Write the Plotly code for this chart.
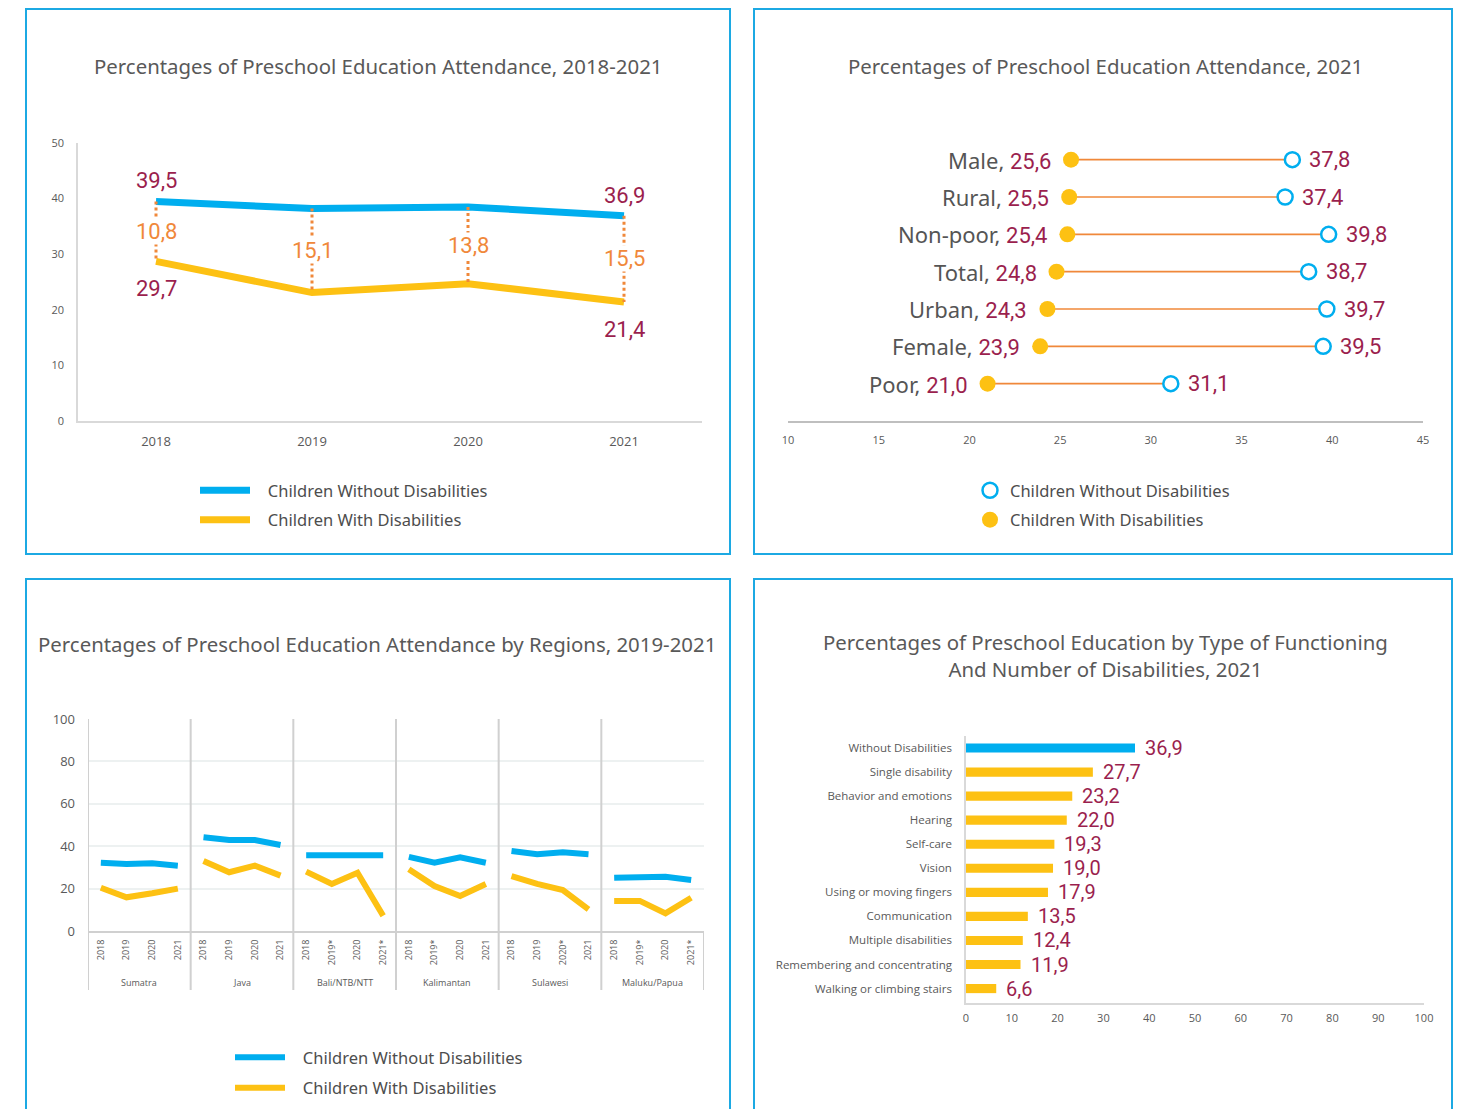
import plotly.graph_objects as go

# the page body keeps its default 8px margin; the figure starts at (8, 8)
OFF = 8
W, H = 1462 - OFF, 1117 - 2 * OFF


def px(x):
    return (x - OFF) / W


def py(y):
    return 1 - (y - OFF) / H


BLUE = "#00AEEF"
YELLOW = "#FDC113"
ORANGE = "#F0883A"
MAROON = "#9B1F4E"
GRAY = "#595959"
AXIS = "#D9D9D9"
BORDER = "#1CA9E3"
TXT_FONT = "Noto Sans"
NUM_FONT = "Roboto"
TICK_FONT = "Open Sans"
NB = "\u00a0\u00a0\u00a0"

# ---------------- data ----------------
# Panel 1: attendance 2018-2021
years = ["2018", "2019", "2020", "2021"]
att_without = [39.5, 38.2, 38.5, 36.9]
att_with = [28.7, 23.1, 24.7, 21.4]
gap_labels = ["10,8", "15,1", "13,8", "15,5"]
without_end_labels = ["39,5", "", "", "36,9"]
with_end_labels = ["29,7", "", "", "21,4"]

# Panel 2: attendance 2021 by group (bottom to top)
groups = ["Poor", "Female", "Urban", "Total", "Non-poor", "Rural", "Male"]
grp_with = [21.0, 23.9, 24.3, 24.8, 25.4, 25.5, 25.6]
grp_without = [31.1, 39.5, 39.7, 38.7, 39.8, 37.4, 37.8]

# Panel 3: attendance by region
regions = ["Sumatra", "Java", "Bali/NTB/NTT", "Kalimantan", "Sulawesi", "Maluku/Papua"]
region_years = [
    ["2018", "2019", "2020", "2021"],
    ["2018", "2019", "2020", "2021"],
    ["2018", "2019*", "2020", "2021*"],
    ["2018", "2019*", "2020", "2021"],
    ["2018", "2019", "2020*", "2021"],
    ["2018", "2019*", "2020", "2021*"],
]
reg_without = [
    [32.2, 31.6, 31.9, 30.8],
    [44.2, 42.9, 42.9, 40.6],
    [35.7, 35.6, 35.9, 35.7],
    [35.0, 32.2, 34.8, 32.2],
    [37.7, 36.2, 37.1, 36.2],
    [25.1, 25.1, 25.6, 24.1],
]
reg_with = [
    [20.4, 15.9, 17.8, 20.0],
    [33.0, 27.7, 30.8, 26.1],
    [28.0, 22.2, 27.5, 7.2],
    [29.1, 21.2, 16.5, 22.2],
    [25.9, 22.2, 19.3, 10.2],
    [14.2, 14.2, 8.3, 15.7],
]

# Panel 4: by type of functioning
func_types = [
    "Without Disabilities", "Single disability", "Behavior and emotions", "Hearing",
    "Self-care", "Vision", "Using or moving fingers", "Communication",
    "Multiple disabilities", "Remembering and concentrating", "Walking or climbing stairs",
]
func_values = [36.9, 27.7, 23.2, 22.0, 19.3, 19.0, 17.9, 13.5, 12.4, 11.9, 6.6]


def fmt(v):
    return f"{v:.1f}".replace(".", ",")


fig = go.Figure()
annotations = []
shapes = []

# ---------------- Panel 1 ----------------
fig.add_trace(go.Scatter(
    x=years, y=att_without, mode="lines", name=NB + "Children Without Disabilities",
    line=dict(color=BLUE, width=7), xaxis="x", yaxis="y", legend="legend",
    legendgroup="a",
))
fig.add_trace(go.Scatter(
    x=years, y=att_with, mode="lines", name=NB + "Children With Disabilities",
    line=dict(color=YELLOW, width=7), xaxis="x", yaxis="y", legend="legend",
    legendgroup="b",
))
gx, gy = [], []
for yr, a, b in zip(years, att_without, att_with):
    gx += [yr, yr, None]
    gy += [a, b, None]
fig.add_trace(go.Scatter(
    x=gx, y=gy, mode="lines", line=dict(color=ORANGE, width=3, dash="dot"),
    showlegend=False, xaxis="x", yaxis="y", hoverinfo="skip",
))
for i, (a, b, g, la, lb) in enumerate(zip(att_without, att_with, gap_labels,
                                          without_end_labels, with_end_labels)):
    annotations.append(dict(
        x=i, y=(a + b) / 2, xref="x", yref="y", text=g, showarrow=False,
        font=dict(family=NUM_FONT, size=22, color=ORANGE), bgcolor="white",
        borderpad=0,
    ))
    if la:
        annotations.append(dict(
            x=i, y=a, xref="x", yref="y", text=la, showarrow=False,
            yanchor="bottom", yshift=6,
            font=dict(family=NUM_FONT, size=22, color=MAROON),
        ))
    if lb:
        annotations.append(dict(
            x=i, y=b, xref="x", yref="y", text=lb, showarrow=False,
            yanchor="top", yshift=-13,
            font=dict(family=NUM_FONT, size=22, color=MAROON),
        ))

# ---------------- Panel 2 ----------------
cx, cy = [], []
for g, a, b in zip(groups, grp_with, grp_without):
    cx += [a, b, None]
    cy += [g, g, None]
fig.add_trace(go.Scatter(
    x=cx, y=cy, mode="lines", line=dict(color=ORANGE, width=1.6),
    showlegend=False, xaxis="x2", yaxis="y2", hoverinfo="skip",
))
fig.add_trace(go.Scatter(
    x=grp_without, y=groups, mode="markers", name="Children Without Disabilities",
    marker=dict(symbol="circle", size=15, color="white", line=dict(color=BLUE, width=2.5)),
    xaxis="x2", yaxis="y2", legend="legend2", legendgroup="c",
))
fig.add_trace(go.Scatter(
    x=grp_with, y=groups, mode="markers", name="Children With Disabilities",
    marker=dict(symbol="circle", size=16, color=YELLOW),
    xaxis="x2", yaxis="y2", legend="legend2", legendgroup="d",
))
for g, a, b in zip(groups, grp_with, grp_without):
    annotations.append(dict(
        x=a, y=g, xref="x2", yref="y2", xanchor="right", xshift=-18, showarrow=False,
        text=(f"<span style='font-family:{TXT_FONT};color:#555555'>{g}, </span>"
              f"{fmt(a)}"),
        font=dict(family=NUM_FONT, size=22, color=MAROON),
    ))
    annotations.append(dict(
        x=b, y=g, xref="x2", yref="y2", xanchor="left", xshift=15, showarrow=False,
        text=fmt(b), font=dict(family=NUM_FONT, size=22, color=MAROON),
    ))

# ---------------- Panel 3 ----------------
rx, rw, rwo, tickvals, ticktext = [], [], [], [], []
for i, (yrs, wo, w) in enumerate(zip(region_years, reg_without, reg_with)):
    for j in range(4):
        pos = 4 * i + j
        rx.append(pos)
        rw.append(w[j])
        rwo.append(wo[j])
        tickvals.append(pos)
        ticktext.append(yrs[j])
    rx.append(None)
    rw.append(None)
    rwo.append(None)
fig.add_trace(go.Scatter(
    x=rx, y=rwo, mode="lines", name=NB + "Children Without Disabilities",
    line=dict(color=BLUE, width=6), xaxis="x3", yaxis="y3", legend="legend3",
    legendgroup="e",
))
fig.add_trace(go.Scatter(
    x=rx, y=rw, mode="lines", name=NB + "Children With Disabilities",
    line=dict(color=YELLOW, width=6), xaxis="x3", yaxis="y3", legend="legend3",
    legendgroup="f",
))
for i, reg in enumerate(regions):
    annotations.append(dict(
        x=4 * i + 1.5, y=py(982), xref="x3", yref="paper", text=reg, showarrow=False,
        yanchor="middle", font=dict(family=TICK_FONT, size=9, color=GRAY),
    ))
for i in range(len(regions) + 1):
    top = py(719) if i < len(regions) else py(931)
    shapes.append(dict(
        type="line", xref="x3", yref="paper", x0=4 * i - 0.5, x1=4 * i - 0.5,
        y0=py(990), y1=top, line=dict(color="#D0D0D0", width=2),
    ))

# ---------------- Panel 4 ----------------
bar_colors = [BLUE] + [YELLOW] * (len(func_types) - 1)
fig.add_trace(go.Bar(
    x=func_values, y=func_types, orientation="h", marker=dict(color=bar_colors, line=dict(width=0)),
    width=0.38, showlegend=False, xaxis="x4", yaxis="y4",
))
for t, v in zip(func_types, func_values):
    annotations.append(dict(
        x=v, y=t, xref="x4", yref="y4", xanchor="left", xshift=8, showarrow=False,
        text=fmt(v), font=dict(family=NUM_FONT, size=20, color=MAROON),
    ))

# ---------------- titles ----------------
title_font = dict(family=TXT_FONT, size=20.4, color=GRAY)
for tx, ty, txt in [
    (378, 66, "Percentages of Preschool Education Attendance, 2018-2021"),
    (1105, 66, "Percentages of Preschool Education Attendance, 2021"),
    (377, 644, "Percentages of Preschool Education Attendance by Regions, 2019-2021"),
    (1105, 655, "Percentages of Preschool Education by Type of Functioning<br>And Number of Disabilities, 2021"),
]:
    annotations.append(dict(x=px(tx), y=py(ty), xref="paper", yref="paper", showarrow=False,
                            xanchor="center", yanchor="middle", text=txt, font=title_font))

# ---------------- panel borders ----------------
for (x0, y0, x1, y1) in [(26, 9, 730, 554), (754, 9, 1452, 554),
                         (26, 579, 730, 1140), (754, 579, 1452, 1140)]:
    shapes.append(dict(type="rect", xref="paper", yref="paper",
                       x0=px(x0), x1=px(x1), y0=py(y0), y1=py(y1),
                       line=dict(color=BORDER, width=2), layer="below"))

tick_font = dict(family=TICK_FONT, size=11, color=GRAY)
legend_font = dict(family=TXT_FONT, size=16.5, color="#4D4D4D")

fig.update_layout(
    width=W, height=H, margin=dict(l=0, r=0, t=0, b=0, autoexpand=False),
    paper_bgcolor="white", plot_bgcolor="white",
    annotations=annotations, shapes=shapes,
    # panel 1
    xaxis=dict(domain=[px(78), px(702)], range=[-0.5, 3.5], type="category",
               showline=True, linecolor=AXIS, linewidth=1.5, showgrid=False,
               ticks="", tickfont=dict(family=TICK_FONT, size=13, color=GRAY),
               ticklabelstandoff=8, anchor="y"),
    yaxis=dict(domain=[py(421), py(143)], range=[0, 50], dtick=10,
               showline=True, linecolor=AXIS, linewidth=1.5, showgrid=False,
               zeroline=False, ticks="", tickfont=tick_font, ticklabelstandoff=10,
               anchor="x"),
    # panel 2
    xaxis2=dict(domain=[px(788), px(1423)], range=[10, 45], dtick=5,
                showline=True, linecolor="#BFBFBF", linewidth=1.5, showgrid=False,
                zeroline=False, ticks="", tickfont=tick_font, ticklabelstandoff=8,
                anchor="y2"),
    yaxis2=dict(domain=[py(421), py(141)], type="category", categoryorder="array",
                categoryarray=groups, range=[-1, 6.5], showticklabels=False,
                showgrid=False, showline=False, zeroline=False, anchor="x2"),
    # panel 3
    xaxis3=dict(domain=[px(88), px(704)], range=[-0.5, 23.5], tickmode="array",
                tickvals=tickvals, ticktext=ticktext, tickangle=-90,
                tickfont=dict(family=TICK_FONT, size=9, color=GRAY),
                showline=True, linecolor="#D0D0D0", linewidth=2, showgrid=False,
                zeroline=False, ticks="", ticklabelstandoff=3, anchor="y3"),
    yaxis3=dict(domain=[py(931), py(719)], range=[0, 100], dtick=20,
                showgrid=True, gridcolor="#EDF1F1", gridwidth=1.5, zeroline=False,
                showline=False, ticks="", tickfont=dict(family=TICK_FONT, size=13, color=GRAY),
                ticklabelstandoff=12, anchor="x3"),
    # panel 4
    xaxis4=dict(domain=[px(966), px(1424)], range=[0, 100], dtick=10,
                showline=True, linecolor=AXIS, linewidth=1.5, showgrid=False,
                zeroline=False, ticks="", tickfont=tick_font, ticklabelstandoff=4,
                anchor="y4"),
    yaxis4=dict(domain=[py(1003), py(736)], type="category", categoryorder="array",
                categoryarray=list(reversed(func_types)), range=[-0.6, 10.5],
                showline=True, linecolor=AXIS, linewidth=1.5, showgrid=False,
                ticks="", tickfont=dict(family=TICK_FONT, size=11.5, color=GRAY),
                ticklabelstandoff=10, anchor="x4"),
    legend=dict(x=px(195), y=py(473), xanchor="left", yanchor="top", itemwidth=50,
                font=legend_font, bgcolor="rgba(0,0,0,0)", tracegroupgap=5),
    legend2=dict(x=px(970), y=py(473), xanchor="left", yanchor="top",
                 font=legend_font, bgcolor="rgba(0,0,0,0)", tracegroupgap=5),
    legend3=dict(x=px(230), y=py(1040), xanchor="left", yanchor="top", itemwidth=50,
                 font=legend_font, bgcolor="rgba(0,0,0,0)", tracegroupgap=6),
    hovermode=False,
)

fig.write_html("out.html", config={"displayModeBar": False})
